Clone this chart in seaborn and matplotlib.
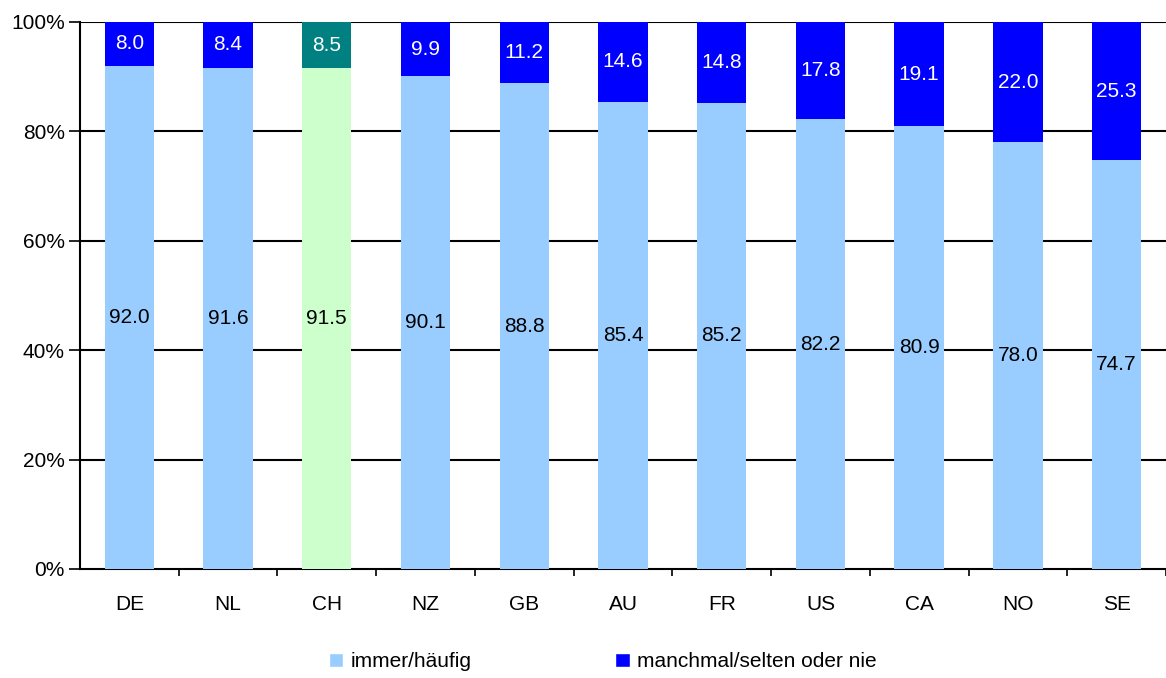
import matplotlib
matplotlib.use("Agg")
import matplotlib.pyplot as plt
import seaborn as sns
from matplotlib.patches import Patch

sns.set_style("white")
plt.rcParams['font.family'] = ['Liberation Sans', 'DejaVu Sans']
plt.rcParams['text.color'] = 'black'
plt.rcParams['xtick.color'] = 'black'
plt.rcParams['ytick.color'] = 'black'

countries = ["DE", "NL", "CH", "NZ", "GB", "AU", "FR", "US", "CA", "NO", "SE"]
immer = [92.0, 91.6, 91.5, 90.1, 88.8, 85.4, 85.2, 82.2, 80.9, 78.0, 74.7]
manchmal = [8.0, 8.4, 8.5, 9.9, 11.2, 14.6, 14.8, 17.8, 19.1, 22.0, 25.3]

light = ["#99CCFF" if c != "CH" else "#CCFFCC" for c in countries]
dark = ["#0000FF" if c != "CH" else "#008080" for c in countries]
totals = [a + b for a, b in zip(immer, manchmal)]

fig = plt.figure(figsize=(11.66, 6.78), dpi=100)
ax = fig.add_axes([0.0686, 0.1608, 0.9314, 0.8068])

# obere Abschnitte (Gesamt) zuerst, dann untere drüber
sns.barplot(x=countries, y=totals, hue=countries, palette=dark, legend=False,
            width=0.5, saturation=1, linewidth=0, ax=ax, zorder=2)
sns.barplot(x=countries, y=immer, hue=countries, palette=light, legend=False,
            width=0.5, saturation=1, linewidth=0, ax=ax, zorder=3)

for i, (a, b) in enumerate(zip(immer, manchmal)):
    ax.text(i, a / 2, f"{a:.1f}", ha="center", va="center", fontsize=15, color="black", zorder=4)
    ax.text(i, a + b / 2, f"{b:.1f}", ha="center", va="center", fontsize=15, color="white", zorder=4)

ax.set_ylim(0, 100)
ax.set_xlim(-0.5, len(countries) - 0.5)
ax.set_yticks(range(0, 101, 20))
ax.set_yticklabels([f"{v}%" for v in range(0, 101, 20)], fontsize=15)
for v in range(20, 101, 20):
    ax.axhline(v, color="black", lw=1.5, zorder=1)

ax.set_xticks(range(len(countries)))
ax.set_xticklabels(countries, fontsize=15)
ax.set_xticks([i + 0.5 for i in range(len(countries))], minor=True)
ax.tick_params(axis="x", which="major", length=0, pad=19)
ax.tick_params(axis="x", which="minor", length=5, width=1.2, color="black", direction="out", bottom=True)
ax.tick_params(axis="y", length=8, width=1.2, color="black", direction="out", left=True, pad=3)

for s in ["top", "right"]:
    ax.spines[s].set_visible(False)
for s in ["left", "bottom"]:
    ax.spines[s].set_color("black")
    ax.spines[s].set_linewidth(1.5)

handles = [Patch(facecolor="#99CCFF", label="immer/häufig"),
           Patch(facecolor="#0000FF", label="manchmal/selten oder nie")]
fig.legend(handles=handles, loc="center", bbox_to_anchor=(0.517, 0.024), ncol=2,
           frameon=False, fontsize=15, handlelength=0.7, handleheight=0.7,
           handletextpad=0.35, columnspacing=6.9)

fig.savefig("out.png", dpi=100)
